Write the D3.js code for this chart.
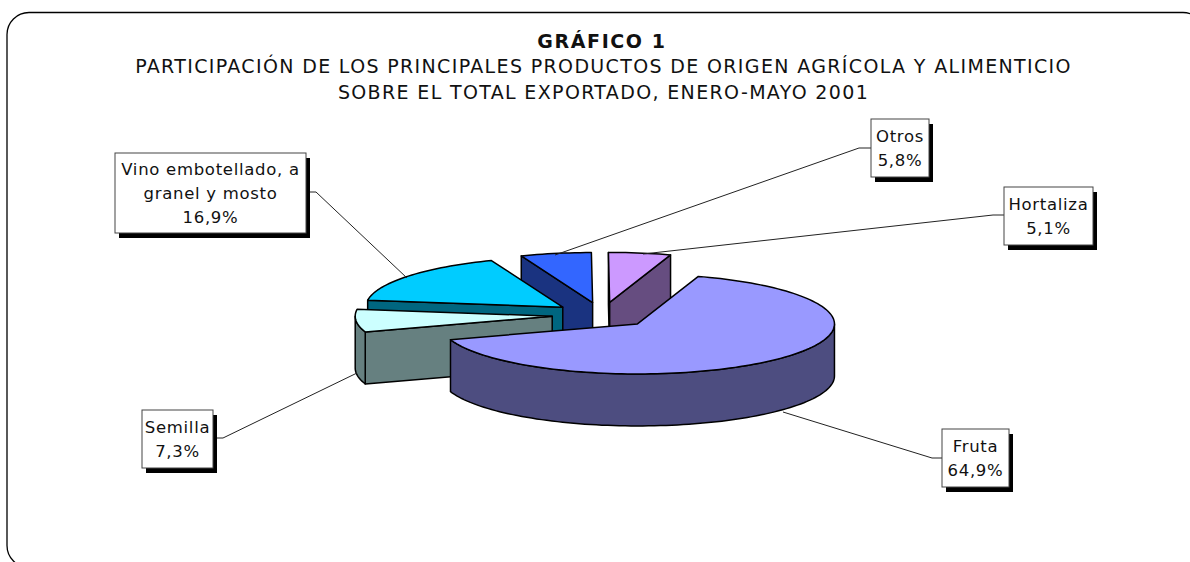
<!DOCTYPE html>
<html>
<head>
<meta charset="utf-8">
<script src="https://cdn.jsdelivr.net/npm/d3@7"></script>
<style>
  html, body { margin: 0; padding: 0; background: #fff; overflow: hidden; }
  text { font-family: "DejaVu Sans", Verdana, sans-serif; fill: #111; }
</style>
</head>
<body>
<div id="plot"></div>
<script>

// data

  var categories = ["Fruta", "Semilla", "Vino embotellado, a|granel y mosto", "Otros", "Hortaliza"];
  var shares = [64.9, 7.3, 16.9, 5.8, 5.1];
  var shareLabels = ["64,9%", "7,3%", "16,9%", "5,8%", "5,1%"];
  var topColors = ["#9999ff", "#ccffff", "#00ccff", "#3366ff", "#cc99ff"];

  var titleLines = [
    "GRÁFICO 1",
    "PARTICIPACIÓN DE LOS PRINCIPALES PRODUCTOS DE ORIGEN AGRÍCOLA Y ALIMENTICIO",
    "SOBRE EL TOTAL EXPORTADO, ENERO-MAYO 2001"
  ];

// layout

  var w = 1190;
  var h = 562;
  var pieCenter = {x: 602, y: 315};
  var rx = 197;
  var ry = 50;
  var depth = 52;
  var explode = 50;
  var startDeg = 18;
  var drawOrder = [3, 4, 2, 1, 0];   // back to front

  var titleY = [48, 73, 99];

  var boxes = [
    {x: 942, y: 429, w: 67, h: 58, line: [[783, 412], [932, 458], [942, 458]]},
    {x: 142, y: 410, w: 71, h: 58, line: [[357, 373], [223, 438], [213, 438]]},
    {x: 115, y: 153, w: 191, h: 80, line: [[407, 278], [316, 192], [306, 192]]},
    {x: 871, y: 119, w: 58, h: 58, line: [[555, 255], [859, 148], [871, 148]]},
    {x: 1004, y: 187, w: 89, h: 58, line: [[643, 254], [993, 215], [1004, 215]]}
  ];

  var svg = d3.select("div#plot")
    .append("svg")
      .attr("width", w)
      .attr("height", h)
      .style("display", "block");

// frame, runs past the right and bottom of the picture

  svg.append("rect")
      .attr("x", 7)
      .attr("y", 12.5)
      .attr("width", 1198)
      .attr("height", 555)
      .attr("rx", 22)
      .attr("fill", "#fff")
      .attr("stroke", "#000")
      .attr("stroke-width", 1.3);

// title

  svg.selectAll("text.title")
      .data(titleLines)
    .enter().append("text")
      .attr("class", "title")
      .attr("x", (d, i) => i == 0 ? 602 : 603.5)
      .attr("y", (d, i) => titleY[i])
      .attr("text-anchor", "middle")
      .attr("font-size", 19)
      .attr("letter-spacing", (d, i) => i == 0 ? 1.6 : 1.35)
      .attr("font-weight", (d, i) => i == 0 ? "bold" : "normal")
      .text(d => d);

// pie

  var pie = d3.pie()
      .sort(null)
      .startAngle(startDeg * Math.PI / 180)
      .endAngle((startDeg + 360) * Math.PI / 180);

  var slices = pie(shares);

  var xScale = d3.scaleLinear().domain([-1, 1]).range([-rx, rx]);
  var yScale = d3.scaleLinear().domain([-1, 1]).range([ry, -ry]);

  var lineGen = d3.line();

  function halfColor(c) {
    var col = d3.rgb(c);
    return d3.rgb(col.r / 2, col.g / 2, col.b / 2).formatHex();
  }

  // point on the ellipse of a slice, angle clockwise from 12 o'clock
  function rim(a, o, down) {
    return [o.x + xScale(Math.sin(a)), o.y + yScale(Math.cos(a)) + (down || 0)];
  }

  function rimPoints(a0, a1, o, down) {
    var n = Math.max(2, Math.ceil(Math.abs(a1 - a0) / 0.03));
    return d3.range(n + 1).map(i => rim(a0 + (a1 - a0) * i / n, o, down));
  }

  function sideFace(a, o) {
    var p = rim(a, o);
    return [[o.x, o.y], p, [p[0], p[1] + depth], [o.x, o.y + depth]];
  }

  var pieG = svg.append("g");

  function drawFace(points, fill) {
    pieG.append("path")
        .attr("d", lineGen(points) + "Z")
        .attr("fill", fill)
        .attr("stroke", "#000")
        .attr("stroke-width", 1.5)
        .attr("stroke-linejoin", "round");
  }

  drawOrder.forEach(function(i) {
    var s = slices[i];
    var mid = (s.startAngle + s.endAngle) / 2;
    var o = {
      x: pieCenter.x + Math.sin(mid) * explode,
      y: pieCenter.y - Math.cos(mid) * explode * ry / rx
    };
    var side = halfColor(topColors[i]);

    // radial walls that face the viewer
    if (Math.cos(s.startAngle - Math.PI / 2) < 0) drawFace(sideFace(s.startAngle, o), side);
    if (Math.cos(s.endAngle + Math.PI / 2) < 0) drawFace(sideFace(s.endAngle, o), side);

    // outer wall, only the front half of the ellipse
    var a0 = Math.max(s.startAngle, Math.PI / 2);
    var a1 = Math.min(s.endAngle, Math.PI * 1.5);
    if (a1 > a0) {
      drawFace(rimPoints(a0, a1, o).concat(rimPoints(a1, a0, o, depth)), side);
    }

    // top
    drawFace([[o.x, o.y]].concat(rimPoints(s.startAngle, s.endAngle, o)), topColors[i]);
  });

// labels

  boxes.forEach(function(b, i) {
    svg.append("path")
        .attr("d", lineGen(b.line))
        .attr("fill", "none")
        .attr("stroke", "#222")
        .attr("stroke-width", 1);

    svg.append("rect")
        .attr("x", b.x + 4)
        .attr("y", b.y + 5)
        .attr("width", b.w)
        .attr("height", b.h)
        .attr("fill", "#000");

    svg.append("rect")
        .attr("x", b.x)
        .attr("y", b.y)
        .attr("width", b.w)
        .attr("height", b.h)
        .attr("fill", "#fff")
        .attr("stroke", "#444")
        .attr("stroke-width", 1);

    var rows = categories[i].split("|").concat(shareLabels[i]);
    var y0 = b.y + b.h / 2 - (rows.length - 1) * 12 + 6;

    rows.forEach(function(t, j) {
      svg.append("text")
          .attr("x", b.x + b.w / 2)
          .attr("y", y0 + j * 24)
          .attr("text-anchor", "middle")
          .attr("font-size", 16.5)
          .attr("letter-spacing", 0.7)
          .text(t);
    });
  });

</script>
</body>
</html>
